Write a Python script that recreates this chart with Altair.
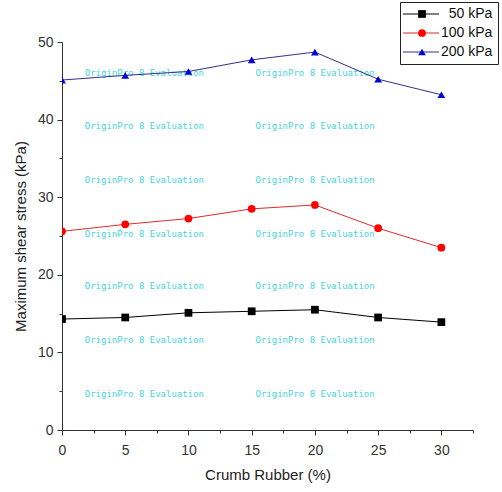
import altair as alt
import pandas as pd

# ---- data ----
rubber = [0, 5, 10, 15, 20, 25, 30]
stress_50 = [14.3, 14.5, 15.1, 15.3, 15.5, 14.5, 13.9]
stress_100 = [25.6, 26.5, 27.25, 28.5, 29.0, 26.0, 23.5]
stress_200 = [45.1, 45.7, 46.2, 47.7, 48.7, 45.2, 43.2]

# leading zero-width char keeps the padding spaces from being trimmed
series_names = ["\u200b\u00a0\u00a050 kPa", "100 kPa", "200 kPa"]
line_colors = ["#000000", "#e02a2a", "#30308c"]
marker_colors = ["#000000", "#ff0000", "#0000d8"]
marker_shapes = ["square", "circle", "triangle-up"]

x_tick_values = [0, 2.5, 5, 7.5, 10, 12.5, 15, 17.5, 20, 22.5, 25, 27.5, 30, 32.5]
y_tick_values = [0, 5, 10, 15, 20, 25, 30, 35, 40, 45, 50]

watermark_text = "OriginPro 8 Evaluation"
watermark_x = [1.8, 15.3]
watermark_y = [46.0, 39.2, 32.2, 25.3, 18.5, 11.6, 4.6]

# ---- tables ----
# marker series keys carry a zero-width suffix so their legend stays separate
marker_names = [n + "\u200b" for n in series_names]
rows = []
for name, mname, vals in zip(series_names, marker_names, [stress_50, stress_100, stress_200]):
    for r, v in zip(rubber, vals):
        rows.append({"rubber": r, "stress": v, "series": mname, "line_series": name})
df = pd.DataFrame(rows)

wm = pd.DataFrame([{"x": x, "y": y, "t": watermark_text} for y in watermark_y for x in watermark_x])

FONT = "Liberation Sans"

x_scale = alt.Scale(domain=[0, 32.5], nice=False, zero=False)
y_scale = alt.Scale(domain=[0, 50], nice=False)

x_axis = alt.Axis(
    values=x_tick_values,
    labelExpr="datum.value % 5 === 0 ? datum.label : ''",
    tickSize={"condition": {"test": "datum.value % 5 === 0", "value": 5}, "value": 3},
    title="Crumb Rubber (%)",
    grid=False,
    domainColor="#333333",
    tickColor="#333333",
    labelColor="#333333",
    labelFont=FONT,
    labelFontSize=14,
    labelPadding=8,
    titleFont=FONT,
    titleFontSize=15,
    titleFontWeight="normal",
    titleColor="#222222",
    titlePadding=10,
    labelFlush=False,
)
y_axis = alt.Axis(
    values=y_tick_values,
    labelExpr="datum.value % 10 === 0 ? datum.label : ''",
    tickSize={"condition": {"test": "datum.value % 10 === 0", "value": 5}, "value": 3},
    title="Maximum shear stress (kPa)",
    grid=False,
    domainColor="#333333",
    tickColor="#333333",
    labelColor="#333333",
    labelFont=FONT,
    labelFontSize=14,
    labelPadding=4,
    titleFont=FONT,
    titleFontSize=15,
    titleFontWeight="normal",
    titleColor="#222222",
    titlePadding=9,
    labelFlush=False,
)

watermark = alt.Chart(wm).mark_text(
    align="left", baseline="middle", font="DejaVu Sans Mono", fontSize=9,
    color="#2fd0d8", opacity=0.9,
).encode(
    x=alt.X("x:Q", scale=x_scale, axis=x_axis),
    y=alt.Y("y:Q", scale=y_scale, axis=y_axis),
    text="t:N",
)

lines = alt.Chart(df).mark_line(strokeWidth=1, clip=True).encode(
    x=alt.X("rubber:Q", scale=x_scale, axis=x_axis),
    y=alt.Y("stress:Q", scale=y_scale, axis=y_axis),
    stroke=alt.Stroke(
        "line_series:N",
        scale=alt.Scale(domain=series_names, range=line_colors),
        legend=alt.Legend(
            title=None, orient="none", legendX=338, legendY=-40,
            symbolType="M-1.5,0H4.5", symbolSize=144, symbolStrokeWidth=1,
            labelFont=FONT, labelFontSize=14, labelColor="#111111",
            labelOffset=22, padding=5, rowPadding=5,
            strokeColor="#222222",
        ),
    ),
)

marker_legend = alt.Legend(
    title=None, orient="none", legendX=348, legendY=-40,
    symbolSize=60, symbolStrokeWidth=0,
    labelFont=FONT, labelFontSize=14, labelExpr="''",
    labelOffset=4, padding=5, rowPadding=5,
)

points = alt.Chart(df).mark_point(filled=True, opacity=1, size=60, clip=True).encode(
    x=alt.X("rubber:Q", scale=x_scale, axis=x_axis),
    y=alt.Y("stress:Q", scale=y_scale, axis=y_axis),
    fill=alt.Fill(
        "series:N",
        scale=alt.Scale(domain=marker_names, range=marker_colors),
        legend=marker_legend,
    ),
    shape=alt.Shape(
        "series:N",
        scale=alt.Scale(domain=marker_names, range=marker_shapes),
        legend=marker_legend,
    ),
)

chart = alt.layer(watermark, lines, points).properties(
    width=411,
    height=388,
    padding={"left": 62, "top": 42, "right": 29, "bottom": 62},
    autosize=alt.AutoSizeParams(type="none"),
    background="white",
).configure_view(stroke=None)

chart.save("out.html", embed_options={"renderer": "svg", "actions": False})
